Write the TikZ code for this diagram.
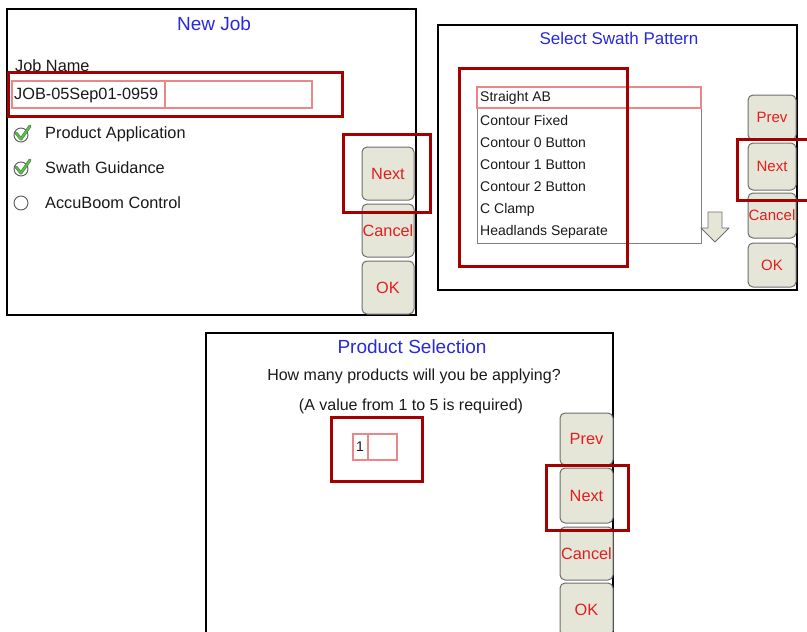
\documentclass[tikz,border=0pt]{standalone}
\usepackage{fontspec}
\setmainfont{Liberation Sans}
\definecolor{hl}{RGB}{165,0,0}
\definecolor{ttl}{RGB}{40,40,220}
\definecolor{btntxt}{RGB}{225,30,30}
\definecolor{btnfill}{RGB}{230,230,216}
\definecolor{btnedge}{RGB}{110,110,110}
\definecolor{fieldedge}{RGB}{235,135,135}
\definecolor{chk}{RGB}{70,205,50}
\definecolor{txt}{RGB}{25,25,25}
\tikzset{
  frame/.style={draw=black, line width=2.5pt},
  hlbox/.style={draw=hl, line width=3pt},
  btn/.style={draw=btnedge, fill=btnfill, rounded corners=5pt, line width=1pt, text=btntxt, inner sep=0pt},
  field/.style={draw=fieldedge, line width=1.2pt},
  listbox/.style={draw=gray, line width=1pt},
  ttlA/.style={text=ttl, inner sep=0pt, font=\fontsize{19}{22}\selectfont},
  ttlB/.style={text=ttl, inner sep=0pt, font=\fontsize{17}{20}\selectfont},
  lbl/.style={text=txt, inner sep=0pt, anchor=west, font=\fontsize{16.3}{19}\selectfont},
  item/.style={text=txt, inner sep=0pt, anchor=west, font=\fontsize{14}{17}\selectfont},
  q/.style={text=txt, inner sep=0pt, font=\fontsize{16}{19}\selectfont},
  bA/.style={btn, font=\fontsize{16.3}{19}\selectfont},
  bB/.style={btn, font=\fontsize{15}{18}\selectfont},
  radio/.style={draw=gray!70!black, line width=0.9pt, fill=white},
  chkdark/.style={draw=black!60, line width=3pt, line cap=round, line join=round},
  chkgreen/.style={draw=chk, line width=1.8pt, line cap=round, line join=round},
}
\begin{document}
\begin{tikzpicture}[x=1pt,y=-1pt]
\useasboundingbox (0,0) rectangle (807,632);
\clip (0,0) rectangle (807,632);

% ---------- Panel 1: New Job ----------
\draw[frame] (7,9) rectangle (416,315);
\node[ttlA] (t1) at (214,24) {New Job};
\node[lbl] (jobname) at (15,66) {Job Name};
\draw[field] (12,81) rectangle (312,108);
\draw[field] (165,81) -- (165,108);
\node[lbl] (jobval) at (14,95) {JOB-05Sep01-0959};
\draw[hlbox] (8,72) rectangle (342,116);

\draw[radio] (21,135) circle (7);
\draw[chkdark] (16,133) -- (21,139) -- (30,126);
\draw[chkgreen] (16,133) -- (21,139) -- (30,126);
\node[lbl] (pa) at (45,134) {Product Application};

\draw[radio] (21,169) circle (7);
\draw[chkdark] (16,167) -- (21,173) -- (30,160);
\draw[chkgreen] (16,167) -- (21,173) -- (30,160);
\node[lbl] (sg) at (45,168) {Swath Guidance};

\draw[radio] (21,203) circle (7);
\node[lbl] (ac) at (45,203) {AccuBoom Control};

\node[bA, minimum width=52pt, minimum height=53pt] (n1) at (388,173.5) {Next};
\node[bA, minimum width=52pt, minimum height=53pt] (c1) at (388,230.5) {Cancel};
\node[bA, minimum width=52pt, minimum height=53pt] (o1) at (388,287.5) {OK};
\draw[hlbox] (343,134) rectangle (430,212);

% ---------- Panel 2: Select Swath Pattern ----------
\draw[frame] (438,25) rectangle (797,290);
\node[ttlB] (t2) at (619,38) {Select Swath Pattern};
\draw[listbox] (477,87) rectangle (701,243);
\draw[field] (477,87) rectangle (701,108);
\node[item] (i1) at (480,98) {Straight AB};
\node[item] (i2) at (480,120) {Contour Fixed};
\node[item] (i3) at (480,143) {Contour 0 Button};
\node[item] (i4) at (480,165) {Contour 1 Button};
\node[item] (i5) at (480,187) {Contour 2 Button};
\node[item] (i6) at (480,210) {C Clamp};
\node[item] (i7) at (480,232) {Headlands Separate};
\draw[hlbox] (459,68) rectangle (627,266);
\draw[draw=btnedge, fill=btnfill, line width=0.9pt, line join=round]
  (708,212) -- (722,212) -- (722,228) -- (729,228) -- (715,242) -- (701,228) -- (708,228) -- cycle;
\node[bB, minimum width=48pt, minimum height=45pt] (p2) at (772,117.5) {Prev};
\node[bB, minimum width=48pt, minimum height=47pt] (n2) at (772,166.5) {Next};
\node[bB, minimum width=48pt, minimum height=45pt] (c2) at (772,215.5) {Cancel};
\node[bB, minimum width=48pt, minimum height=44pt] (o2) at (772,265) {OK};
\draw[hlbox] (737,139) rectangle (815,200);

% ---------- Panel 3: Product Selection ----------
\draw[frame] (206,333) rectangle (613,660);
\node[ttlA] (t3) at (412,347) {Product Selection};
\node[q] (q1) at (414,376) {How many products will you be applying?};
\node[q] (q2) at (411,406) {(A value from 1 to 5 is required)};
\draw[field] (353,434) rectangle (397,460);
\draw[field] (368,434) -- (368,460);
\node[item] (v1) at (356,447) {1};
\draw[hlbox] (331,417) rectangle (422,481);
\node[bA, minimum width=53pt, minimum height=52pt] (p3) at (586.5,439) {Prev};
\node[bA, minimum width=53pt, minimum height=55pt] (n3) at (586.5,495.5) {Next};
\node[bA, minimum width=53pt, minimum height=53pt] (c3) at (586.5,553.5) {Cancel};
\node[bA, minimum width=53pt, minimum height=53pt] (o3) at (586.5,609.5) {OK};
\draw[hlbox] (546,465) rectangle (628,530);
\end{tikzpicture}
\end{document}
